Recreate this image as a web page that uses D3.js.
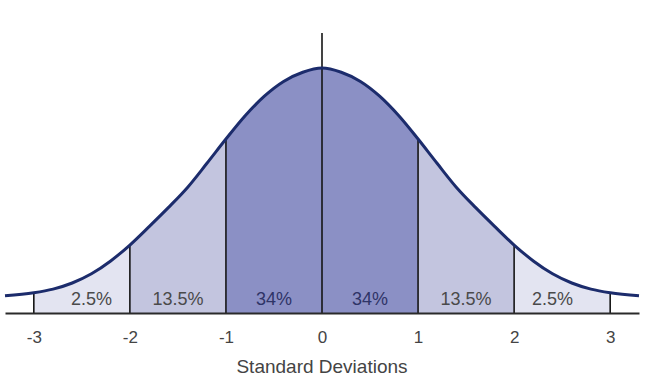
<!DOCTYPE html>
<html>
<head>
<meta charset="utf-8">
<script src="https://cdn.jsdelivr.net/npm/d3@7"></script>
<style>
  body { margin: 0; background: #fff; }
  text { font-family: "Liberation Sans", Arial, sans-serif; }
</style>
</head>
<body>
<div id="chartDiv"></div>
<script>
// standard deviations (x) and curve height (density-like units)
var zValues = [-3.3, -3.0, -2.8, -2.6, -2.4, -2.2, -2.0, -1.8, -1.6, -1.4, -1.2, -1.0, -0.8, -0.6, -0.4, -0.2, 0,
               0.2, 0.4, 0.6, 0.8, 1.0, 1.2, 1.4, 1.6, 1.8, 2.0, 2.2, 2.4, 2.6, 2.8, 3.0, 3.3];
var heights = [0.028, 0.033, 0.039, 0.049, 0.064, 0.085, 0.111, 0.141, 0.172, 0.205, 0.244, 0.284, 0.322, 0.354, 0.378, 0.393, 0.400,
               0.393, 0.378, 0.354, 0.322, 0.284, 0.244, 0.205, 0.172, 0.141, 0.111, 0.085, 0.064, 0.049, 0.039, 0.033, 0.028];

var tickValues = [-3, -2, -1, 0, 1, 2, 3];
var tickLabels = ["-3", "-2", "-1", "0", "1", "2", "3"];

// bands between the dividers
var bandStart = [-3, -2, -1, 0, 1, 2];
var bandEnd = [-2, -1, 0, 1, 2, 3];
var bandLabels = ["2.5%", "13.5%", "34%", "34%", "13.5%", "2.5%"];
var bandLabelAt = [-2.4, -1.5, -0.5, 0.5, 1.5, 2.4];

var xAxisLabelHeader = "Standard Deviations";
var zeroLineTop = 0.457;

var width = 651, height = 389;
var baseY = 313;

var bandFill = ["#e3e4f1", "#c3c5df", "#8b90c5", "#8b90c5", "#c3c5df", "#e3e4f1"];
var bandText = ["#4a4a4a", "#4a4a4a", "#2f3467", "#2f3467", "#4a4a4a", "#4a4a4a"];

var data = zValues.map(function(z, i) { return { z: z, h: heights[i] }; });

var svg = d3.select("#chartDiv").append("svg")
  .attr("width", width)
  .attr("height", height);

var x = d3.scaleLinear().domain([-3.3, 3.3]).range([5, 639]);
var y = d3.scaleLinear().domain([0, 0.4]).range([baseY, 68]);

var area = d3.area()
  .x(function(d) { return x(d.z); })
  .y0(y(0))
  .y1(function(d) { return y(d.h); })
  .curve(d3.curveMonotoneX);

var line = d3.line()
  .x(function(d) { return x(d.z); })
  .y(function(d) { return y(d.h); })
  .curve(d3.curveMonotoneX);

var defs = svg.append("defs");

// one clipped copy of the area per band
bandStart.forEach(function(a, i) {
  defs.append("clipPath").attr("id", "band" + i)
    .append("rect")
      .attr("x", x(a))
      .attr("y", 0)
      .attr("width", x(bandEnd[i]) - x(a))
      .attr("height", height);

  svg.append("path")
    .datum(data)
    .attr("d", area)
    .attr("fill", bandFill[i])
    .attr("clip-path", "url(#band" + i + ")");
});

// divider lines up to the curve
function heightAt(z) {
  var i = zValues.indexOf(z);
  return heights[i];
}

svg.selectAll(".divider")
  .data(tickValues.filter(function(t) { return t !== 0; }))
  .enter().append("line")
    .attr("class", "divider")
    .attr("x1", function(d) { return x(d); })
    .attr("x2", function(d) { return x(d); })
    .attr("y1", y(0))
    .attr("y2", function(d) { return y(heightAt(d)); })
    .attr("stroke", "#151515")
    .attr("stroke-width", 1.6);

// centre line goes above the curve
svg.append("line")
  .attr("x1", x(0)).attr("x2", x(0))
  .attr("y1", y(0)).attr("y2", y(zeroLineTop))
  .attr("stroke", "#151515")
  .attr("stroke-width", 1.6);

// curve
svg.append("path")
  .datum(data)
  .attr("d", line)
  .attr("fill", "none")
  .attr("stroke", "#1c2c6c")
  .attr("stroke-width", 3);

// x axis
var xAxis = d3.axisBottom(x)
  .tickValues(tickValues)
  .tickFormat(function(d, i) { return tickLabels[i]; })
  .tickSize(0)
  .tickPadding(18);

var axisG = svg.append("g")
  .attr("transform", "translate(0," + baseY + ")")
  .call(xAxis);

axisG.select(".domain")
  .attr("stroke", "#2a2a2a")
  .attr("stroke-width", 2);

axisG.selectAll(".tick text")
  .attr("fill", "#444")
  .style("font-size", "17px")
  .style("font-family", "'Liberation Sans', Arial, sans-serif");

// band percentages
svg.selectAll(".pct")
  .data(bandLabels)
  .enter().append("text")
    .attr("class", "pct")
    .attr("x", function(d, i) { return x(bandLabelAt[i]); })
    .attr("y", 305)
    .attr("text-anchor", "middle")
    .attr("fill", function(d, i) { return bandText[i]; })
    .style("font-size", "18px")
    .text(function(d) { return d; });

// axis title
svg.append("text")
  .attr("x", x(0))
  .attr("y", 373)
  .attr("text-anchor", "middle")
  .attr("fill", "#444")
  .style("font-size", "19px")
  .text(xAxisLabelHeader);
</script>
</body>
</html>
